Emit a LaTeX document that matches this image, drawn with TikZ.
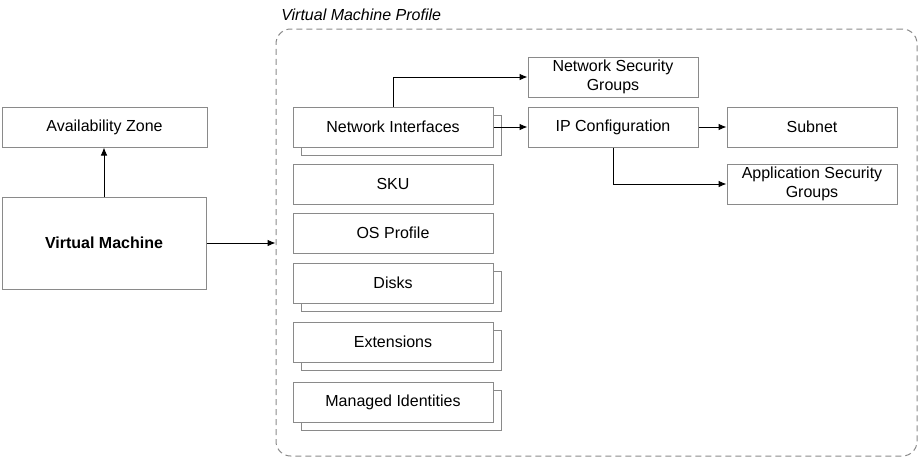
\documentclass[tikz,border=0pt]{standalone}
\usepackage{fontspec}
\setmainfont{Liberation Sans}
\usetikzlibrary{arrows.meta,shadows}
\usetikzlibrary{positioning}

\definecolor{boxgray}{HTML}{8A8A8A}

\begin{document}
\begin{tikzpicture}[x=0.75pt,y=0.75pt,yscale=-1,xscale=1]
  \useasboundingbox (0,0) rectangle (920,457);
  \tikzstyle{arrow} = [line width=0.75pt,-{Latex[length=6pt,width=5pt]}]
  \tikzstyle{box} = [draw=boxgray,line width=0.75pt,fill=white,minimum height=30pt,inner sep=0.75pt,font=\fontsize{12}{14.25}\selectfont,align=center]
  \tikzstyle{stack} = [box,copy shadow={shadow xshift=6pt,shadow yshift=-6pt,draw=boxgray,line width=0.75pt}]
  %Draw the profile frame
  \node[draw=boxgray,dash pattern=on 4.5pt off 3pt,rounded corners=11pt,line width=0.75pt,minimum width=480.75pt,minimum height=320.25pt] (profile) at (596.5,242.5) {};
  \node[anchor=west,inner sep=0pt,font=\fontsize{12}{14.25}\selectfont\itshape] (title) at (281,15) {Virtual Machine Profile};

  %Draw the machine side
  \node[box,minimum width=153.75pt] (az) at (104.5,127) {Availability Zone};
  \node[box,minimum width=153pt,minimum height=69pt,font=\fontsize{12}{14.25}\selectfont\bfseries] (vm) at (104,243) {Virtual Machine};

  %Draw the profile parts
  \node[stack,minimum width=150pt] (nic) at (393,127) {Network Interfaces};
  \node[box,minimum width=150pt] (sku) at (393,184) {SKU};
  \node[box,minimum width=150pt] (osprofile) at (393,233) {OS Profile};
  \node[stack,minimum width=150pt] (disks) at (393,283) {Disks};
  \node[stack,minimum width=150pt] (ext) at (393,342) {Extensions};
  \node[stack,minimum width=150pt] (mi) at (393,402) {Managed Identities};

  %Draw the network parts
  \node[box,minimum width=127.5pt] (nsg) at (613,77) {Network Security\\Groups};
  \node[box,minimum width=127.5pt] (ipconf) at (613,127) {IP Configuration};
  \node[box,minimum width=127.5pt] (subnet) at (812,127) {Subnet};
  \node[box,minimum width=127.5pt] (asg) at (812,184) {Application Security\\Groups};

  % Connect them
  \draw[arrow] (vm.north) -- (vm.north |- az.south);
  \draw[arrow] (vm.east) -- (vm.east -| profile.west);
  \draw[arrow] (nic.north) |- (nsg.west);
  \draw[arrow] (nic.east) -- (ipconf.west);
  \draw[arrow] (ipconf.east) -- (subnet.west);
  \draw[arrow] (ipconf.south) |- (asg.west);
\end{tikzpicture}
\end{document}
